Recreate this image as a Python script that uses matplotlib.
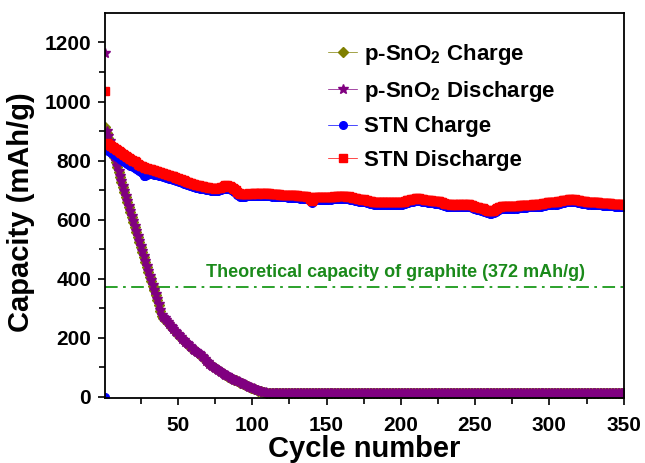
import numpy as np
import matplotlib
matplotlib.use("Agg")
import matplotlib.pyplot as plt

plt.rcParams["font.family"] = ["Liberation Sans", "DejaVu Sans"]
plt.rcParams["font.weight"] = "bold"
plt.rcParams["mathtext.fontset"] = "custom"
plt.rcParams["mathtext.rm"] = "Liberation Sans:bold"
plt.rcParams["mathtext.bf"] = "Liberation Sans:bold"

cycles = np.arange(1, 351)

stn_discharge = [
    1035, 860, 856, 853, 850, 846, 843, 839, 835, 831,
    828, 825, 821, 818, 815, 812, 809, 806, 803, 800,
    797, 794, 790, 786, 783, 780, 778, 776, 774, 772,
    771, 770, 768, 767, 765, 764, 762, 760, 758, 757,
    755, 753, 752, 750, 749, 747, 746, 744, 742, 740,
    739, 737, 735, 733, 731, 729, 726, 725, 723, 721,
    720, 718, 717, 716, 715, 714, 713, 711, 710, 709,
    708, 707, 706, 706, 705, 706, 707, 708, 710, 712,
    714, 716, 716, 715, 714, 712, 708, 703, 699, 695,
    691, 688, 686, 686, 687, 688, 688, 689, 688, 688,
    689, 690, 689, 688, 690, 689, 688, 689, 689, 690,
    689, 688, 687, 688, 687, 686, 687, 686, 685, 685,
    684, 685, 684, 683, 684, 683, 682, 683, 682, 682,
    681, 680, 681, 679, 680, 679, 678, 678, 670, 662,
    670, 678, 677, 678, 677, 676, 677, 676, 676, 676,
    677, 678, 677, 678, 679, 678, 679, 680, 679, 679,
    680, 679, 679, 678, 679, 677, 676, 674, 673, 672,
    671, 670, 669, 668, 670, 667, 665, 664, 663, 662,
    661, 660, 660, 659, 659, 658, 659, 658, 659, 658,
    659, 660, 659, 658, 659, 660, 659, 658, 659, 659,
    660, 661, 663, 665, 666, 668, 669, 670, 671, 672,
    672, 672, 671, 670, 669, 668, 667, 666, 665, 665,
    664, 664, 663, 662, 662, 662, 660, 658, 656, 654,
    653, 652, 652, 651, 652, 651, 652, 651, 652, 652,
    651, 652, 652, 651, 652, 652, 650, 648, 646, 644,
    642, 641, 640, 639, 638, 636, 634, 632, 630, 629,
    628, 630, 632, 635, 638, 641, 644, 645, 646, 645,
    646, 645, 646, 645, 645, 646, 647, 646, 647, 648,
    648, 649, 648, 649, 650, 651, 650, 651, 652, 652,
    651, 652, 652, 653, 654, 655, 656, 657, 658, 658,
    659, 660, 661, 660, 660, 662, 663, 664, 665, 666,
    667, 668, 669, 670, 669, 668, 669, 667, 666, 665,
    664, 663, 662, 662, 661, 660, 661, 660, 659, 659,
    659, 658, 658, 657, 657, 656, 656, 655, 656, 655,
    655, 654, 654, 653, 653, 652, 653, 652, 652, 650,
]

stn_charge = [
    0, 835, 832, 829, 826, 822, 819, 815, 812, 808,
    805, 802, 798, 795, 792, 789, 786, 783, 780, 778,
    775, 772, 769, 766, 762, 757, 748, 746, 752, 754,
    755, 754, 753, 752, 751, 750, 749, 748, 746, 745,
    744, 742, 741, 739, 738, 737, 735, 733, 731, 730,
    728, 726, 724, 722, 720, 718, 716, 714, 713, 711,
    710, 708, 707, 706, 705, 704, 703, 702, 701, 700,
    699, 698, 697, 697, 696, 697, 698, 699, 700, 702,
    703, 704, 704, 703, 702, 700, 697, 693, 689, 685,
    681, 678, 676, 677, 678, 679, 679, 680, 679, 679,
    680, 681, 680, 679, 680, 680, 679, 680, 680, 681,
    680, 679, 678, 679, 678, 677, 678, 677, 676, 676,
    675, 676, 675, 674, 675, 674, 673, 674, 673, 673,
    672, 671, 672, 670, 671, 670, 669, 669, 662, 655,
    662, 669, 668, 669, 668, 667, 668, 667, 667, 667,
    668, 669, 668, 669, 670, 669, 670, 671, 670, 670,
    671, 670, 670, 669, 670, 668, 667, 665, 664, 663,
    662, 661, 660, 659, 661, 658, 656, 655, 654, 653,
    652, 651, 650, 649, 650, 649, 650, 649, 650, 649,
    650, 651, 650, 649, 650, 651, 650, 649, 650, 650,
    651, 652, 654, 656, 657, 659, 660, 661, 662, 663,
    663, 663, 662, 661, 660, 659, 658, 657, 656, 656,
    655, 655, 654, 653, 653, 653, 651, 649, 647, 645,
    644, 643, 643, 642, 643, 642, 643, 642, 643, 643,
    642, 643, 643, 642, 643, 643, 641, 639, 637, 635,
    633, 632, 631, 630, 629, 627, 625, 623, 621, 620,
    619, 621, 623, 626, 629, 632, 635, 636, 637, 636,
    637, 636, 637, 636, 636, 637, 638, 637, 638, 639,
    639, 640, 639, 640, 641, 642, 641, 642, 643, 643,
    642, 643, 643, 644, 645, 646, 647, 648, 649, 649,
    650, 651, 652, 651, 651, 653, 654, 655, 656, 657,
    658, 659, 660, 661, 660, 659, 660, 658, 657, 656,
    655, 654, 653, 653, 652, 651, 652, 651, 650, 650,
    650, 649, 649, 648, 648, 647, 647, 646, 647, 646,
    646, 645, 645, 644, 644, 643, 644, 643, 643, 641,
]

psno2_charge = [
    915, 895, 878, 861, 845, 828, 811, 794, 777, 760,
    744, 727, 710, 693, 676, 659, 643, 626, 609, 592,
    575, 558, 542, 525, 508, 491, 474, 458, 441, 424,
    407, 391, 375, 360, 344, 327, 310, 292, 275, 268,
    264, 258, 252, 246, 240, 234, 228, 223, 218, 213,
    207, 202, 196, 191, 186, 181, 176, 171, 166, 162,
    158, 154, 150, 146, 142, 138, 133, 127, 121, 116,
    110, 106, 103, 100, 97, 93, 90, 87, 84, 80,
    77, 74, 71, 68, 65, 62, 60, 57, 55, 53,
    51, 48, 46, 43, 41, 38, 36, 33, 31, 29,
    27, 25, 23, 21, 19, 18, 16, 15, 14, 13,
    13, 13, 12, 12, 12, 12, 12, 12, 12, 12,
    12, 12, 12, 12, 12, 12, 12, 12, 12, 12,
    12, 12, 12, 12, 12, 12, 12, 12, 12, 12,
    12, 12, 12, 12, 12, 12, 12, 12, 12, 12,
    12, 12, 12, 12, 12, 12, 12, 12, 12, 12,
    12, 12, 12, 12, 12, 12, 12, 12, 12, 12,
    12, 12, 12, 12, 12, 12, 12, 12, 12, 12,
    12, 12, 12, 12, 12, 12, 12, 12, 12, 12,
    12, 12, 12, 12, 12, 12, 12, 12, 12, 12,
    12, 12, 12, 12, 12, 12, 12, 12, 12, 12,
    12, 12, 12, 12, 12, 12, 12, 12, 12, 12,
    12, 12, 12, 12, 12, 12, 12, 12, 12, 12,
    12, 12, 12, 12, 12, 12, 12, 12, 12, 12,
    12, 12, 12, 12, 12, 12, 12, 12, 12, 12,
    12, 12, 12, 12, 12, 12, 12, 12, 12, 12,
    12, 12, 12, 12, 12, 12, 12, 12, 12, 12,
    12, 12, 12, 12, 12, 12, 12, 12, 12, 12,
    12, 12, 12, 12, 12, 12, 12, 12, 12, 12,
    12, 12, 12, 12, 12, 12, 12, 12, 12, 12,
    12, 12, 12, 12, 12, 12, 12, 12, 12, 12,
    12, 12, 12, 12, 12, 12, 12, 12, 12, 12,
    12, 12, 12, 12, 12, 12, 12, 12, 12, 12,
    12, 12, 12, 12, 12, 12, 12, 12, 12, 12,
    12, 12, 12, 12, 12, 12, 12, 12, 12, 12,
]

psno2_discharge = [
    1165, 900, 882, 865, 848, 831, 814, 797, 780, 763,
    747, 730, 713, 696, 679, 662, 646, 629, 612, 595,
    578, 561, 545, 528, 511, 494, 477, 461, 444, 427,
    410, 394, 378, 363, 347, 330, 313, 295, 278, 270,
    265, 259, 253, 247, 241, 235, 229, 224, 219, 214,
    208, 203, 197, 192, 187, 182, 177, 172, 167, 163,
    159, 155, 151, 147, 143, 139, 134, 128, 122, 117,
    111, 107, 104, 101, 98, 94, 91, 88, 85, 81,
    78, 75, 72, 69, 66, 63, 61, 58, 56, 54,
    52, 49, 47, 44, 42, 39, 37, 34, 32, 30,
    28, 26, 24, 22, 20, 19, 17, 16, 15, 14,
    13, 12, 11, 11, 11, 11, 11, 11, 11, 11,
    11, 11, 11, 11, 11, 11, 11, 11, 11, 11,
    11, 11, 11, 11, 11, 11, 11, 11, 11, 11,
    11, 11, 11, 11, 11, 11, 11, 11, 11, 11,
    11, 11, 11, 11, 11, 11, 11, 11, 11, 11,
    11, 11, 11, 11, 11, 11, 11, 11, 11, 11,
    11, 11, 11, 11, 11, 11, 11, 11, 11, 11,
    11, 11, 11, 11, 11, 11, 11, 11, 11, 11,
    11, 11, 11, 11, 11, 11, 11, 11, 11, 11,
    11, 11, 11, 11, 11, 11, 11, 11, 11, 11,
    11, 11, 11, 11, 11, 11, 11, 11, 11, 11,
    11, 11, 11, 11, 11, 11, 11, 11, 11, 11,
    11, 11, 11, 11, 11, 11, 11, 11, 11, 11,
    11, 11, 11, 11, 11, 11, 11, 11, 11, 11,
    11, 11, 11, 11, 11, 11, 11, 11, 11, 11,
    11, 11, 11, 11, 11, 11, 11, 11, 11, 11,
    11, 11, 11, 11, 11, 11, 11, 11, 11, 11,
    11, 11, 11, 11, 11, 11, 11, 11, 11, 11,
    11, 11, 11, 11, 11, 11, 11, 11, 11, 11,
    11, 11, 11, 11, 11, 11, 11, 11, 11, 11,
    11, 11, 11, 11, 11, 11, 11, 11, 11, 11,
    11, 11, 11, 11, 11, 11, 11, 11, 11, 11,
    11, 11, 11, 11, 11, 11, 11, 11, 11, 11,
    11, 11, 11, 11, 11, 11, 11, 11, 11, 11,
]

graphite_capacity = 372
xticks = [50, 100, 150, 200, 250, 300, 350]
yticks = [0, 200, 400, 600, 800, 1000, 1200]

fig = plt.figure(figsize=(6.45, 4.63), dpi=100)
ax = fig.add_axes([0.163, 0.140, 0.804, 0.832])

series = [
    (psno2_charge, "#7f7f00", "D", 5.5, "p-SnO$_2$ Charge"),
    (psno2_discharge, "#800080", "*", 7.5, "p-SnO$_2$ Discharge"),
    (stn_charge, "#0000ff", "o", 5.5, "STN Charge"),
    (stn_discharge, "#ff0000", "s", 6.3, "STN Discharge"),
]
for z, (vals, col, mk, ms, lab) in enumerate(series):
    # first cycle drawn as a lone marker, the rest joined by a thin line
    ax.plot(cycles[:1], vals[:1], color=col, marker=mk, markersize=ms,
            linestyle="none", zorder=2 + z)
    ax.plot(cycles[1:], vals[1:], color=col, marker=mk, markersize=ms,
            linewidth=0.5, label=lab, zorder=2 + z)

ax.axhline(graphite_capacity, color="#1a9a1a", linestyle="-.", linewidth=1.3,
           dashes=(7, 3, 1.5, 3), zorder=1)
ax.text(69, 405, "Theoretical capacity of graphite (372 mAh/g)",
        color="#1a8a1a", fontsize=13, fontweight="bold", va="baseline")

ax.set_xlim(1, 350)
ax.set_ylim(-5, 1300)
ax.set_xticks(xticks)
ax.set_xticks(np.arange(25, 350, 50), minor=True)
ax.set_yticks(yticks)
ax.set_yticks(np.arange(100, 1300, 200), minor=True)
ax.tick_params(axis="both", which="major", direction="out", length=5, width=1.2,
               labelsize=15)
ax.tick_params(axis="both", which="minor", direction="out", length=4, width=1.2)
ax.tick_params(axis="x", which="major", pad=8)
ax.tick_params(axis="y", which="major", pad=5)
for lab in ax.get_xticklabels() + ax.get_yticklabels():
    lab.set_fontweight("bold")
for s in ax.spines.values():
    s.set_linewidth(1.3)
    s.set_zorder(10)

ax.set_xlabel("Cycle number", fontsize=21, fontweight="bold", labelpad=0)
ax.set_ylabel("Capacity (mAh/g)", fontsize=21, fontweight="bold")
ax.yaxis.set_label_coords(-0.135, 0.483)

ax.legend(loc="upper left", bbox_to_anchor=(0.43, 0.925), frameon=False,
          handlelength=1.3, handletextpad=0.3, labelspacing=0.55,
          borderpad=0, borderaxespad=0, prop={"weight": "bold", "size": 16})

fig.savefig("out.png", dpi=100)
